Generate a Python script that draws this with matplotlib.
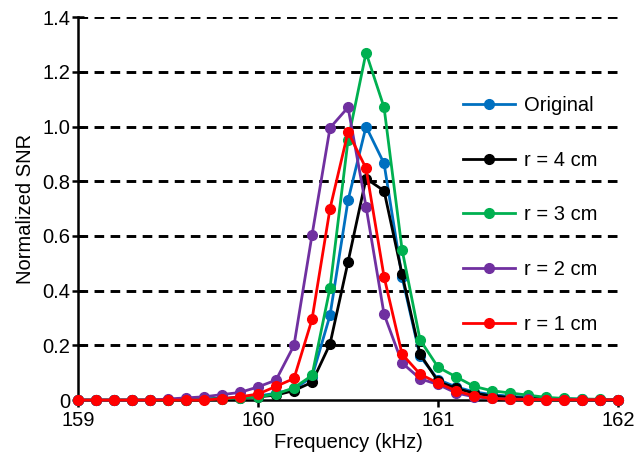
import matplotlib.pyplot as plt

plt.rcParams["font.family"] = ["Liberation Sans", "DejaVu Sans"]

# Frequency sweep (kHz), 0.1 kHz steps
freq = [159.0, 159.1, 159.2, 159.3, 159.4, 159.5, 159.6, 159.7, 159.8, 159.9,
        160.0, 160.1, 160.2, 160.3, 160.4, 160.5, 160.6, 160.7, 160.8, 160.9,
        161.0, 161.1, 161.2, 161.3, 161.4, 161.5, 161.6, 161.7, 161.8, 161.9,
        162.0]

snr_original = [0, 0, 0, 0, 0, 0, 0.002, 0.004, 0.006, 0.01,
                0.015, 0.025, 0.04, 0.085, 0.31, 0.73, 1.0, 0.865, 0.45, 0.16,
                0.075, 0.048, 0.03, 0.02, 0.014, 0.01, 0.007, 0.005, 0.003, 0.002,
                0.001]
snr_r4 = [0, 0, 0, 0, 0, 0, 0.002, 0.003, 0.005, 0.008,
          0.012, 0.018, 0.035, 0.065, 0.205, 0.505, 0.81, 0.765, 0.46, 0.168,
          0.068, 0.043, 0.025, 0.015, 0.01, 0.007, 0.005, 0.003, 0.002, 0.001,
          0.001]
snr_r3 = [0, 0, 0, 0, 0, 0, 0.002, 0.003, 0.005, 0.008,
          0.012, 0.022, 0.045, 0.09, 0.41, 0.95, 1.27, 1.07, 0.55, 0.22,
          0.12, 0.085, 0.05, 0.034, 0.026, 0.018, 0.01, 0.006, 0.004, 0.003,
          0.002]
snr_r2 = [0, 0, 0, 0, 0, 0.004, 0.008, 0.012, 0.02, 0.028,
          0.048, 0.073, 0.2, 0.603, 0.995, 1.07, 0.707, 0.314, 0.136, 0.078,
          0.057, 0.026, 0.012, 0.006, 0.004, 0.003, 0.002, 0.002, 0.001, 0.001,
          0.001]
snr_r1 = [0, 0, 0, 0, 0, 0, 0, 0, 0.005, 0.012,
          0.022, 0.05, 0.079, 0.295, 0.70, 0.98, 0.847, 0.451, 0.168, 0.095,
          0.062, 0.034, 0.015, 0.006, 0.003, 0.002, 0.002, 0.001, 0.001, 0.001,
          0.001]

series = [
    ("Original", snr_original, "#0070C0"),
    ("r = 4 cm", snr_r4, "#000000"),
    ("r = 3 cm", snr_r3, "#00B050"),
    ("r = 2 cm", snr_r2, "#7030A0"),
    ("r = 1 cm", snr_r1, "#FF0000"),
]

fig = plt.figure(figsize=(6.38, 4.62), dpi=100)
ax = fig.add_axes([0.122, 0.134, 0.847, 0.829])

# dashed horizontal guides
for y in [0.2, 0.4, 0.6, 0.8, 1.0, 1.2, 1.4]:
    ax.axhline(y, color="black", lw=2.1, linestyle=(0, (3.3, 2.2)), zorder=1)

for label, vals, color in series:
    ax.plot(freq, vals, color=color, lw=2.0, marker="o", markersize=7,
            label=label, clip_on=False, zorder=3)

ax.set_xlim(159, 162)
ax.set_ylim(0, 1.4)
ax.set_xticks([159, 160, 161, 162])
ax.set_yticks([0, 0.2, 0.4, 0.6, 0.8, 1.0, 1.2, 1.4])
ax.set_yticklabels(["0", "0.2", "0.4", "0.6", "0.8", "1.0", "1.2", "1.4"])

for side in ["top", "right"]:
    ax.spines[side].set_visible(False)
for side in ["left", "bottom"]:
    ax.spines[side].set_linewidth(1.8)

ax.tick_params(axis="y", direction="inout", length=9, width=1.8, labelsize=14.5, pad=1)
ax.tick_params(axis="x", direction="out", length=5, width=1.8, labelsize=14.5, pad=3)

ax.set_xlabel("Frequency (kHz)", fontsize=14.5, labelpad=2)
ax.set_ylabel("Normalized SNR", fontsize=14.5, labelpad=5)

ax.legend(loc="upper left", bbox_to_anchor=(463 / 638, 1 - 96 / 462),
          bbox_transform=fig.transFigure, frameon=False, fontsize=14.5,
          labelspacing=1.77, handlelength=2.6, handletextpad=0.45,
          borderpad=0, borderaxespad=0)

fig.savefig("out.png", dpi=100)
